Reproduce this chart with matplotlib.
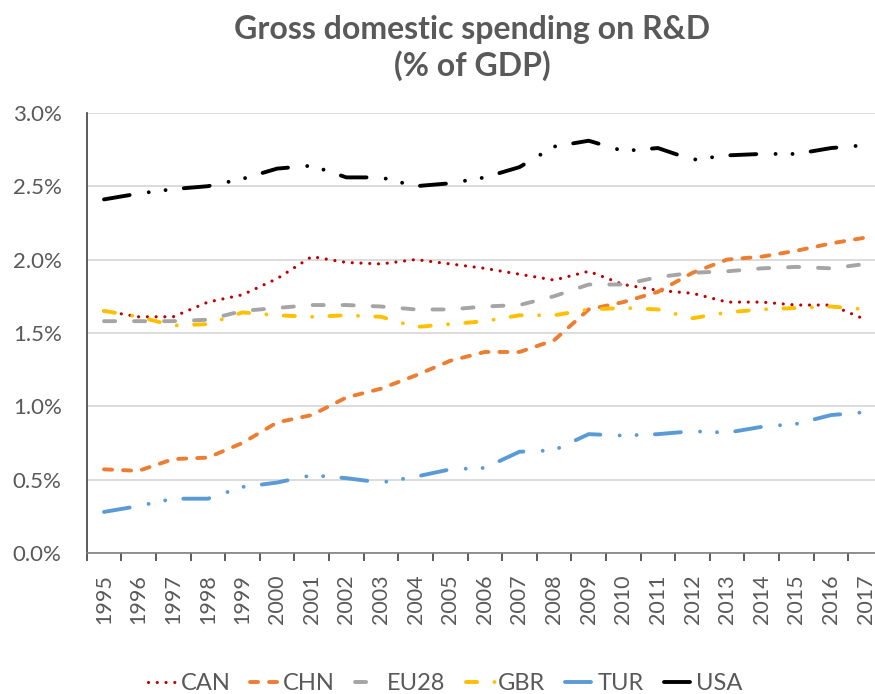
import matplotlib
matplotlib.use("Agg")
import matplotlib.pyplot as plt
from matplotlib.ticker import FuncFormatter, FixedLocator

years = [str(y) for y in range(1995, 2018)]

CAN = [1.65, 1.61, 1.61, 1.71, 1.76, 1.87, 2.02, 1.98, 1.97, 2.00, 1.97, 1.94,
       1.90, 1.86, 1.92, 1.83, 1.79, 1.77, 1.71, 1.71, 1.69, 1.69, 1.59]
CHN = [0.57, 0.56, 0.64, 0.65, 0.75, 0.89, 0.94, 1.06, 1.12, 1.21, 1.31, 1.37,
       1.37, 1.45, 1.66, 1.71, 1.78, 1.91, 2.00, 2.02, 2.06, 2.11, 2.15]
EU28 = [1.58, 1.58, 1.58, 1.59, 1.65, 1.67, 1.69, 1.69, 1.68, 1.66, 1.66, 1.68,
        1.69, 1.75, 1.83, 1.83, 1.88, 1.91, 1.92, 1.94, 1.95, 1.94, 1.97]
GBR = [1.65, 1.61, 1.55, 1.56, 1.64, 1.62, 1.61, 1.62, 1.61, 1.54, 1.56, 1.58,
       1.62, 1.62, 1.66, 1.67, 1.66, 1.60, 1.64, 1.66, 1.67, 1.68, 1.66]
TUR = [0.28, 0.32, 0.37, 0.37, 0.45, 0.48, 0.53, 0.51, 0.48, 0.52, 0.57, 0.58,
       0.69, 0.70, 0.81, 0.80, 0.81, 0.83, 0.82, 0.86, 0.88, 0.94, 0.96]
USA = [2.41, 2.45, 2.48, 2.50, 2.55, 2.62, 2.64, 2.56, 2.56, 2.50, 2.52, 2.56,
       2.63, 2.77, 2.81, 2.74, 2.76, 2.68, 2.71, 2.72, 2.72, 2.76, 2.78]

series = [
    ("CAN", CAN, "#C00000", 2.3, (0, (0.01, 6.3))),
    ("CHN", CHN, "#ED7D31", 2.8, (0, (5.8, 7.9))),
    ("EU28", EU28, "#A5A5A5", 2.8, (0, (8.0, 13.6))),
    ("GBR", GBR, "#FFC000", 2.8, (0, (8.0, 12.5, 0.01, 12.5))),
    ("TUR", TUR, "#5B9BD5", 2.8, (0, (18.7, 13.9, 0.01, 12.2, 0.01, 13.2))),
    ("USA", USA, "#000000", 2.8, (0, (18.7, 13.9, 0.01, 12.2, 0.01, 13.2))),
]

plt.rcParams['font.family'] = ['Lato', 'DejaVu Sans']
plt.rcParams['lines.scale_dashes'] = False
text_col = "#595959"

fig = plt.figure(figsize=(8.75, 6.94), dpi=100)
ax = fig.add_axes([0.0991, 0.2032, 0.910, 0.6342])

x = list(range(len(years)))
for name, vals, col, lw, ls in series:
    ax.plot(x, vals, color=col, lw=lw, linestyle=ls,
            dash_capstyle='round', solid_capstyle='round', label=name)

ax.set_xlim(-0.5, len(years) - 0.5)
ax.set_ylim(0, 3.0)
ax.set_yticks([0, 0.5, 1.0, 1.5, 2.0, 2.5, 3.0])
ax.yaxis.set_major_formatter(FuncFormatter(lambda v, p: f"{v:.1f}%"))
ax.tick_params(axis='y', length=0, pad=18, labelsize=16, labelcolor=text_col)
ax.grid(axis='y', color='#D9D9D9', lw=1.3)
ax.set_axisbelow(True)

ax.xaxis.set_major_locator(FixedLocator([i + 0.5 for i in range(-1, len(years))]))
ax.xaxis.set_major_formatter(FuncFormatter(lambda v, p: ""))
ax.xaxis.set_minor_locator(FixedLocator(x))
ax.set_xticklabels(years, minor=True, rotation=90)
ax.tick_params(axis='x', which='major', length=6, width=1.2, color='#404040', direction='out')
ax.tick_params(axis='x', which='minor', length=0, pad=15.5, labelsize=15.5, labelcolor=text_col)

for s in ['top', 'right']:
    ax.spines[s].set_visible(False)
ax.spines['left'].set_color('#404040')
ax.spines['left'].set_linewidth(1.2)
ax.spines['bottom'].set_color('#808080')
ax.spines['bottom'].set_linewidth(1.2)

fig.text(0.540, 0.978, "Gross domestic spending on R&D\n(% of GDP)", ha='center', va='top',
         fontsize=23, fontweight='bold', color=text_col, linespacing=1.25)

handles, labels = ax.get_legend_handles_labels()
fig.legend(handles, labels, loc='center', bbox_to_anchor=(0.509, 0.015), ncol=6,
           frameon=False, fontsize=17, handlelength=1.27, handletextpad=0.1,
           columnspacing=0.85, labelcolor=text_col)

fig.savefig("out.png", dpi=100)
